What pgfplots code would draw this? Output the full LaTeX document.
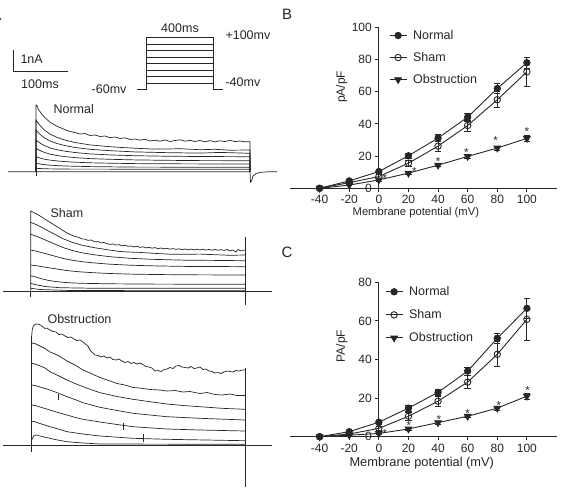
\documentclass[border=0pt]{standalone}
\usepackage{pgfplots}
\pgfplotsset{compat=1.18}
\usepackage{fontspec}
\setmainfont{Liberation Sans}
\definecolor{ink}{gray}{0.15}
\newcommand\lbl{\fontsize{12.5}{14}\selectfont}
\newcommand\tkl{\fontsize{12}{14}\selectfont}
\pgfplotsset{
  trace/.style={ink, line width=0.7pt, mark=none},
  bar/.style={ink, line width=0.9pt, mark=none},
  ivaxis/.style={
    scale only axis, width=266.5pt,
    xmin=-60, xmax=120, ymin=0,
    axis x line=bottom, axis y line=middle,
    axis line style={-, ink, line width=0.9pt},
    every inner y axis line/.append style={-},
    every outer x axis line/.append style={-},
    xtick={-40,-20,0,20,40,60,80,100},
    xticklabels={-40,-20,0,20,40,60,80,100},
    tick align=outside, major tick length=3.5pt,
    tick style={ink, line width=0.9pt},
    tick label style={font=\tkl, text=ink},
    clip=false,
    legend cell align=left,
  },
  normal/.style={ink, line width=0.9pt, mark=*, mark size=3.2pt, mark options={solid, fill=ink},
    error bars/.cd, y dir=both, y explicit, error bar style={ink, line width=0.8pt},
    error mark options={ink, line width=0.8pt, mark size=3.2pt, rotate=90}},
  sham/.style={ink, line width=0.9pt, mark=o, mark size=3.2pt, mark options={solid, fill=white},
    error bars/.cd, y dir=both, y explicit, error bar style={ink, line width=0.8pt},
    error mark options={ink, line width=0.8pt, mark size=3.2pt, rotate=90}},
  obst/.style={ink, line width=0.9pt, mark=triangle*, mark size=3.8pt, mark options={solid, fill=ink, rotate=180},
    error bars/.cd, y dir=both, y explicit, error bar style={ink, line width=0.8pt},
    error mark options={ink, line width=0.8pt, mark size=3.2pt, rotate=90}},
}
\tikzset{sig/.style={font=\fontsize{11.5}{12}\selectfont, text=ink, inner sep=0pt, yshift=-2.5pt},
  zerolbl/.style={font=\tkl, text=ink, anchor=east, xshift=-3.5pt}}

\begin{document}
\begin{tikzpicture}[x=1pt,y=1pt]
\useasboundingbox (0,0) rectangle (562,488);

% ---------------- A: whole-cell current traces and protocol ----------------
\begin{axis}[at={(145pt,244pt)}, anchor=center, scale only axis,
  width=290pt, height=488pt, xmin=0, xmax=290, ymin=0, ymax=488,
  y dir=reverse, axis lines=none, clip=false]

% scale bars
\addplot[bar] coordinates {(13.3,50) (13.3,71.7) (68.3,71.7)};
\node[font=\lbl, text=ink, anchor=west] at (axis cs:17,59.3) {1nA};
\node[font=\lbl, text=ink] at (axis cs:40,84) {100ms};

% voltage protocol
\addplot[bar, line width=0.8pt] coordinates {(137,89.3) (146.7,89.3) (146.7,37.3) (213.3,37.3) (213.3,89.3) (223.3,89.3)};
\addplot[bar, line width=0.8pt] coordinates {(146.7,43.9) (213.3,43.9)};
\addplot[bar, line width=0.8pt] coordinates {(146.7,50.4) (213.3,50.4)};
\addplot[bar, line width=0.8pt] coordinates {(146.7,57.0) (213.3,57.0)};
\addplot[bar, line width=0.8pt] coordinates {(146.7,63.6) (213.3,63.6)};
\addplot[bar, line width=0.8pt] coordinates {(146.7,70.1) (213.3,70.1)};
\addplot[bar, line width=0.8pt] coordinates {(146.7,76.7) (213.3,76.7)};
\addplot[bar, line width=0.8pt] coordinates {(146.7,83.3) (213.3,83.3)};
\node[font=\lbl, text=ink] at (axis cs:180,28) {400ms};
\node[font=\lbl, text=ink, anchor=west] at (axis cs:222,35) {+100mv};
\node[font=\lbl, text=ink, anchor=west] at (axis cs:222,82) {-40mv};
\node[font=\lbl, text=ink, anchor=east] at (axis cs:130,89.5) {-60mv};

% Normal
\node[font=\lbl, text=ink, anchor=west] at (axis cs:50,109) {Normal};
\addplot[trace] coordinates {(8,171.7) (250,171.7) (250.5,182) (251.5,181) (253,176) (256,173.5) (261,172.3) (268,171.8) (277,171.7)};
\addplot[trace] coordinates {(36,176) (36,171.7)};
\addplot[trace] coordinates {(36,171.7) (36,105) (37,105.5) (38,108.7) (41,113.1) (45,117.8) (50,122.2) (57,126.3) (65,129.6) (70,131.5) (75,132.5) (80,134) (85,133.5) (90,135.5) (95,135) (100,136.5) (105,136) (110,137.7) (115,137) (120,138.5) (125,137.8) (130,139.5) (135,139) (140,140.2) (145,139.3) (150,141) (155,140.2) (160,141.2) (165,140) (170,141.5) (175,140.5) (180,139.8) (185,141.2) (190,140.3) (195,141.5) (200,140.5) (205,141.8) (210,140.6) (215,141.9) (220,140.8) (225,141.5) (230,140.4) (235,141.6) (240,141) (245,141.8) (250,141.7) (250,171.7)};
\addplot[trace] coordinates {(36,171.7) (36,120) (38,123) (41,126.6) (45,130.5) (50,134.1) (57,137.4) (65,140.1) (75,142.5) (90,144.9) (110,146.7) (122,147.5) (135,148.2) (150,148.9) (165,149.1) (180,148.7) (200,149.7) (215,149.3) (230,150.2) (250,150) (250,171.7)};
\addplot[trace] coordinates {(36,171.7) (36,130) (38,132.3) (41,135.1) (45,138.2) (50,141) (57,143.5) (65,145.6) (75,147.5) (90,149.3) (110,150.7) (135,151.9) (165,152.6) (200,153.1) (220,152.4) (250,153.3) (250,171.7)};
\addplot[trace] coordinates {(36,171.7) (36,140) (38,141.7) (41,143.7) (45,145.8) (50,147.9) (57,149.7) (65,151.2) (75,152.5) (90,153.9) (110,154.9) (135,155.7) (165,156.2) (200,156.5) (250,156.7) (250,171.7)};
\addplot[trace] coordinates {(36,171.7) (36,148.3) (38,149.5) (41,151) (45,152.6) (50,154.1) (57,155.5) (65,156.6) (75,157.6) (90,158.6) (110,159.3) (135,159.9) (165,160.3) (200,160.6) (250,160.7) (250,171.7)};
\addplot[trace] coordinates {(36,171.7) (36,156.7) (38,157.4) (41,158.3) (45,159.3) (50,160.1) (57,160.9) (65,161.6) (75,162.2) (90,162.8) (110,163.2) (135,163.6) (165,163.8) (200,163.9) (250,164) (250,171.7)};
\addplot[trace] coordinates {(36,171.7) (36,163.3) (41,164.2) (50,165.2) (65,166) (90,166.6) (135,167.1) (250,167.3) (250,171.7)};
\addplot[trace] coordinates {(36,171.7) (36,168.3) (45,168.8) (70,169.1) (250,169.3)};

% Sham
\node[font=\lbl, text=ink, anchor=west] at (axis cs:47,213.5) {Sham};
\addplot[trace] coordinates {(3.3,291.7) (271.7,291.7)};
\addplot[trace] coordinates {(30.7,296.7) (30.7,291.7)};
\addplot[trace] coordinates {(245,236.7) (245,305)};
\addplot[trace] coordinates {(30.7,291.7) (30.7,211) (33,212.2) (37,214.1) (42,217.2) (48,221.1) (55,225.4) (60,228.5) (63,230.5) (67,233) (70,234.5) (72,235.3) (75,236.5) (78,237.2) (82,238.8) (85,239.2) (88,240.4) (91,240) (95,241.9) (98,241.5) (101,242.8) (104,242.5) (107,243.8) (110,244.4) (113,243.9) (116,245) (119,244.6) (122,245.8) (125,245.2) (128,246.3) (131,246) (134,246.9) (137,246.3) (140,247.4) (143,246.8) (146,247.9) (149,247.3) (152,248.2) (155,247.6) (158,248.6) (161,248) (164,248.9) (167,248.3) (170,249.2) (173,248.6) (176,249.4) (179,248.8) (182,249.6) (185,249) (188,249.8) (191,249.1) (194,249.9) (197,249.2) (200,250) (203,249.3) (206,250.1) (209,249.4) (212,250.2) (215,249.4) (218,250.3) (221,249.6) (224,250.4) (227,249.5) (230,251) (233,250) (236,252) (238,249.5) (241,251) (245,250)};
\addplot[trace] coordinates {(30.7,222.3) (33,223.3) (37,224.9) (42,227.5) (48,230.8) (55,234.4) (63,238.7) (72,242.2) (82,245.2) (95,247.8) (110,250.1) (120,251.5) (130,252.1) (140,252.4) (155,253.4) (170,254.2) (185,254.3) (200,254.1) (215,254.7) (230,255.3) (245,255)};
\addplot[trace] coordinates {(30.7,234.3) (33,235.1) (37,236.4) (42,238.5) (48,241.2) (55,244.1) (63,247.5) (72,250.4) (82,252.8) (95,254.9) (110,256.7) (130,258.3) (155,259.4) (185,260.2) (215,260.4) (245,260.7)};
\addplot[trace] coordinates {(30.7,250) (33,250.5) (37,251.3) (42,252.7) (48,254.3) (55,256.2) (63,258.4) (72,260.2) (82,261.7) (95,263) (110,264.2) (130,265.2) (155,265.9) (185,266.4) (215,266.5) (245,266.7)};
\addplot[trace] coordinates {(30.7,265) (33,265.3) (37,265.8) (42,266.6) (48,267.6) (55,268.7) (63,270) (72,271.1) (82,272) (95,272.8) (110,273.5) (130,274.1) (155,274.5) (185,274.8) (215,274.9) (245,275)};
\addplot[trace] coordinates {(30.7,275.7) (33,276.2) (37,277.4) (42,278.9) (48,280.3) (55,281.4) (63,282.3) (72,282.9) (82,283.3) (110,283.8) (155,284.1) (245,284.3)};
\addplot[trace] coordinates {(30.7,283.3) (35,284.5) (45,286.5) (60,287.7) (90,288.2) (245,288.3)};
\addplot[trace] coordinates {(30.7,288.3) (40,289.5) (70,290.5) (245,290.8)};

% Obstruction
\node[font=\lbl, text=ink, anchor=west] at (axis cs:44,319.3) {Obstruction};
\addplot[trace] coordinates {(3.3,445) (271.7,445)};
\addplot[trace, line width=1.3pt] coordinates {(31.7,451.7) (31.7,336)};
\addplot[trace] coordinates {(245,368) (245,486.7)};
\addplot[trace] coordinates {(31.7,336) (32.3,329) (33.3,326) (35,324.5) (37,324) (39,324.3) (41,325.5) (43,327) (45,328.5) (47,328) (50,330) (53,331.5) (56,332) (59,334.5) (62,334) (65,336) (68,337.5) (71,337) (74,339) (77,340.5) (80,340) (83,342) (86,344.5) (88,346) (90,350) (92,352) (95,355) (98,355.5) (101,357) (104,356) (107,358) (110,357) (113,359.5) (116,360) (119,359) (122,361) (125,362.5) (128,361.5) (131,363.5) (134,362.5) (137,364) (140,363) (143,364.5) (146,366.5) (149,367) (152,368) (155,371) (158,370.5) (161,371.5) (164,369.5) (167,369) (170,367.5) (173,368.5) (176,366) (179,365.5) (182,367) (185,367.5) (188,368) (191,366.5) (194,368.5) (197,368) (200,367) (203,369.5) (206,369) (209,371) (212,371.5) (215,373) (218,372.5) (221,373.5) (224,372) (227,371) (230,371.5) (233,372) (236,370.5) (239,371) (242,370) (245,370)};
\addplot[trace] coordinates {(31.7,343.5) (33,343) (36,344) (40,346) (45,348.5) (50,352) (55,354) (60,356.5) (67,361) (75,365) (83,370) (90,373) (100,377.5) (110,381) (117,383.5) (125,385) (133,387.5) (140,388) (150,389.5) (160,390) (167,391) (175,390.5) (183,392) (190,391.5) (200,393.5) (207,392.5) (215,394.5) (222,395) (230,394) (237,395.5) (245,395.5)};
\addplot[trace] coordinates {(31.7,363.3) (35,364) (40,366) (45,368) (50,371.7) (58,375.5) (67,380) (75,383.5) (83,386.7) (92,390) (100,392.7) (117,396.5) (133,399.3) (150,401.7) (167,404) (183,405.5) (200,406.7) (222,408.3) (245,409.3)};
\addplot[trace] coordinates {(31.7,385) (35,385.5) (40,387) (50,390) (58,393) (67,396.7) (75,399.5) (83,402.7) (100,407.3) (117,410.5) (133,413.3) (150,415) (167,416.7) (200,418.3) (245,420)};
\addplot[trace] coordinates {(31.7,405) (35,405.5) (40,407) (50,410) (58,412.5) (67,415) (75,417.3) (83,419.3) (100,422) (117,424.5) (133,426.7) (167,429) (200,430) (245,431)};
\addplot[trace] coordinates {(31.7,421.7) (34,421.5) (40,423.5) (50,426.7) (60,429.5) (67,431.7) (83,434) (100,436) (133,438.3) (167,439.3) (245,440.7)};
\addplot[trace] coordinates {(31.7,440) (34,435.5) (36,435) (40,436) (45,437.2) (55,439.5) (67,441.7) (83,443) (100,444) (245,444.3)};
\addplot[trace] coordinates {(58.3,394.3) (58.3,400)};
\addplot[trace] coordinates {(123.3,423.3) (123.3,430)};
\addplot[trace] coordinates {(143.3,434.3) (143.3,441.7)};
\end{axis}

% ---------------- B ----------------
\begin{axis}[ivaxis, at={(290pt,299.7pt)}, anchor=south west, height=161pt,
  ymax=100, ytick={0,20,40,60,80,100}, yticklabels={0,20,40,60,80,100},
  legend style={draw=none, fill=none, font=\lbl, text=ink, row sep=7.5pt,
    at={(0.36,1.008)}, anchor=north west}]
\addplot[normal] coordinates {(-40,0) +- (0,0) (-20,4.6) +- (0,0.8) (0,10.4) +- (0,1.2) (20,20.2) +- (0,1.5) (40,31.2) +- (0,2) (60,44.2) +- (0,2.5) (80,62) +- (0,3) (100,78) +- (0,3.5)};
\addlegendentry{\hspace{4pt}Normal}
\addplot[sham] coordinates {(-40,0) +- (0,0) (-20,3.5) +- (0,1) (0,7.3) +- (0,2) (20,15.6) +- (0,2) (40,26.2) +- (0,3) (60,39) +- (0,3.4) (80,55) +- (0,5) (100,72.3) +- (0,9)};
\addlegendentry{\hspace{4pt}Sham}
\addplot[obst] coordinates {(-40,0) +- (0,0) (-20,2) +- (0,0.5) (0,5.2) +- (0,0.8) (20,9.4) +- (0,1) (40,14.4) +- (0,1) (60,19.8) +- (0,1) (80,25) +- (0,1.2) (100,31) +- (0,2)};
\addlegendentry{\hspace{4pt}Obstruction}
\node[sig] at (axis cs:4,7.7) {*};
\node[sig] at (axis cs:24,11.9) {*};
\node[sig] at (axis cs:40,18.1) {*};
\node[sig] at (axis cs:59.2,24) {*};
\node[sig] at (axis cs:78.8,31) {*};
\node[sig] at (axis cs:100,36.9) {*};
\node[zerolbl] at (axis cs:0,0) {0};
\node[font=\fontsize{11.2}{13}\selectfont, text=ink] at (axis cs:25,0) [yshift=-24.7pt] {Membrane potential (mV)};
\node[font=\tkl, text=ink, rotate=90] at (axis cs:-25,63) {pA/pF};
\end{axis}

% ---------------- C ----------------
\begin{axis}[ivaxis, at={(290pt,51.3pt)}, anchor=south west, height=154.4pt,
  ymax=80, ytick={0,20,40,60,80}, yticklabels={0,20,40,60,80},
  legend style={draw=none, fill=none, font=\lbl, text=ink, row sep=8.5pt,
    at={(0.345,1.0)}, anchor=north west}]
\addplot[normal] coordinates {(-40,0) +- (0,0) (-20,2.6) +- (0,0.5) (0,7.5) +- (0,1) (20,14.8) +- (0,1.5) (40,23) +- (0,1.5) (60,34) +- (0,2) (80,51) +- (0,2.5) (100,66.5) +- (0,5)};
\addlegendentry{\hspace{4pt}Normal}
\addplot[sham] coordinates {(-40,0) +- (0,0) (-20,1.4) +- (0,0.5) (0,4.3) +- (0,1) (20,10.6) +- (0,2) (40,18.4) +- (0,2.5) (60,28.3) +- (0,3.5) (80,42.7) +- (0,6.5) (100,60.8) +- (0,11)};
\addlegendentry{\hspace{4pt}Sham}
\addplot[obst] coordinates {(-40,0) +- (0,0) (-20,0.8) +- (0,0.3) (0,1.7) +- (0,0.5) (20,4) +- (0,0.8) (40,7.3) +- (0,0.8) (60,10.6) +- (0,0.8) (80,14.8) +- (0,1) (100,21) +- (0,1.5)};
\addlegendentry{\hspace{4pt}Obstruction}
\node[sig] at (axis cs:4,2.8) {*};
\node[sig] at (axis cs:20.3,6.9) {*};
\node[sig] at (axis cs:40.6,10.4) {*};
\node[sig] at (axis cs:60,13.2) {*};
\node[sig] at (axis cs:81,17.5) {*};
\node[sig] at (axis cs:100.5,25.2) {*};
\node[zerolbl] at (axis cs:0,0) {0};
\node[font=\fontsize{12.8}{14}\selectfont, text=ink] at (axis cs:29,0) [yshift=-26.3pt] {Membrane potential (mV)};
\node[font=\tkl, text=ink, rotate=90] at (axis cs:-25,47) {PA/pF};
\end{axis}

% panel letters
\node[font=\fontsize{15}{16}\selectfont, text=ink] at (287,474) {B};
\node[font=\fontsize{15}{16}\selectfont, text=ink] at (287,236) {C};
\node[font=\fontsize{15}{16}\selectfont, text=ink] at (-3.5,473) {A};
\end{tikzpicture}
\end{document}
